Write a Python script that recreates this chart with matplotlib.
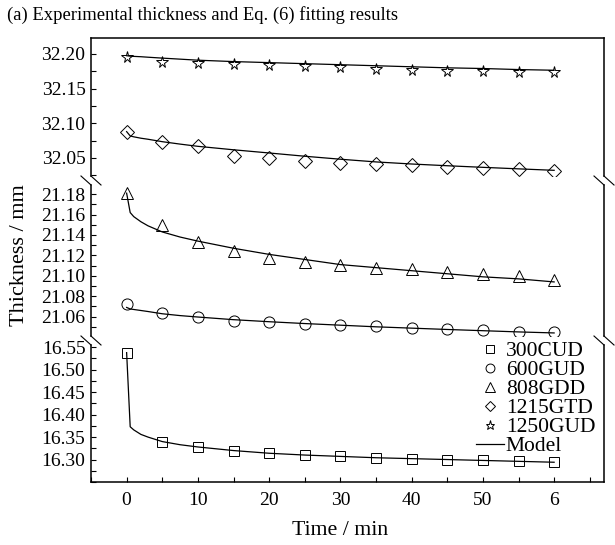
import matplotlib
matplotlib.use("Agg")
import matplotlib.pyplot as plt
from matplotlib.lines import Line2D
from matplotlib.ticker import MultipleLocator, FixedLocator

plt.rcParams['font.family'] = ['Liberation Serif', 'DejaVu Serif']

# measured thickness (mm) vs time (min)
time = [0, 5, 10, 15, 20, 25, 30, 35, 40, 45, 50, 55, 60]
cud_300 = [16.538, 16.338, 16.328, 16.320, 16.3145, 16.310, 16.308, 16.3045, 16.302,
           16.300, 16.2985, 16.2963, 16.294]
gud_600 = [21.0722, 21.064, 21.060, 21.0561, 21.0548, 21.0532, 21.0519, 21.0509,
           21.0493, 21.0477, 21.047, 21.0454, 21.045]
gdd_808 = [21.181, 21.1496, 21.1333, 21.1244, 21.1179, 21.1137, 21.1105, 21.108,
           21.1065, 21.1042, 21.1019, 21.100, 21.096]
gtd_1215 = [32.0875, 32.073, 32.0673, 32.053, 32.0496, 32.0457, 32.0433, 32.0413,
            32.0395, 32.0375, 32.036, 32.034, 32.0313]
gud_1250 = [32.1952, 32.189, 32.1875, 32.186, 32.1841, 32.1827, 32.1813, 32.1784,
            32.1774, 32.176, 32.1755, 32.1745, 32.1736]

# Eq. (6) model curves
t_model = [0, 0.5, 1, 2, 3, 5, 7.5, 10, 15, 20, 25, 30, 35, 40, 45, 50, 55, 60]
model_300 = [16.538, 16.373, 16.366, 16.356, 16.350, 16.340, 16.333, 16.328, 16.320,
             16.314, 16.310, 16.307, 16.304, 16.302, 16.300, 16.298, 16.296, 16.294]
model_600 = [21.069, 21.0675, 21.067, 21.066, 21.065, 21.0628, 21.061, 21.0596, 21.057,
             21.055, 21.0532, 21.0516, 21.050, 21.0487, 21.0474, 21.0462, 21.045, 21.044]
model_808 = [21.181, 21.162, 21.158, 21.153, 21.149, 21.143, 21.138, 21.134, 21.127,
             21.121, 21.116, 21.111, 21.108, 21.105, 21.102, 21.099, 21.097, 21.094]
model_1215 = [32.088, 32.0818, 32.0805, 32.0785, 32.077, 32.0735, 32.070, 32.0668,
              32.0618, 32.0572, 32.0525, 32.0482, 32.0443, 32.0413, 32.0388, 32.0365,
              32.0343, 32.0322]
model_1250 = [32.1975, 32.1968, 32.1965, 32.196, 32.1953, 32.194, 32.1925, 32.191,
              32.189, 32.1875, 32.186, 32.1845, 32.183, 32.1815, 32.180, 32.179,
              32.1775, 32.1765]

x_ticks = [0, 10, 20, 30, 40, 50, 60]
x_labels = ['0', '10', '20', '30', '40', '50', '6']

W, H = 615, 545
fig = plt.figure(figsize=(W / 100, H / 100), dpi=100)

L, R = 91, 604
panels = {  # pixel top, pixel bottom
    'top': (38, 176),
    'mid': (185, 336),
    'bot': (345, 482),
}


def make_ax(top, bottom):
    return fig.add_axes([L / W, 1 - bottom / H, (R - L) / W, (bottom - top) / H])


ax_top = make_ax(*panels['top'])
ax_mid = make_ax(*panels['mid'])
ax_bot = make_ax(*panels['bot'])

mk = dict(mfc='none', mec='black', mew=0.7, ls='none')
ln = dict(color='black', lw=0.9)

ax_top.plot(t_model, model_1250, **ln)
ax_top.plot(t_model, model_1215, **ln)
h5, = ax_top.plot(time, gud_1250, marker='*', ms=8.5, **mk)
h4, = ax_top.plot(time, gtd_1215, marker='D', ms=7.0, **mk)

ax_mid.plot(t_model, model_808, **ln)
ax_mid.plot(t_model, model_600, **ln)
h3, = ax_mid.plot(time, gdd_808, marker='^', ms=8.5, **mk)
h2, = ax_mid.plot(time, gud_600, marker='o', ms=8.0, **mk)

hm, = ax_bot.plot(t_model, model_300, **ln)
h1, = ax_bot.plot(time, cud_300, marker='s', ms=7.5, **mk)

ax_top.set_ylim(32.024, 32.223)
ax_mid.set_ylim(21.041, 21.189)
ax_bot.set_ylim(16.25, 16.555)

ax_top.yaxis.set_major_locator(FixedLocator([32.05, 32.10, 32.15, 32.20]))
ax_top.yaxis.set_minor_locator(MultipleLocator(0.025))
ax_mid.yaxis.set_major_locator(FixedLocator([21.06, 21.08, 21.10, 21.12, 21.14, 21.16, 21.18]))
ax_mid.yaxis.set_minor_locator(MultipleLocator(0.01))
ax_bot.yaxis.set_major_locator(FixedLocator([16.30, 16.35, 16.40, 16.45, 16.50, 16.55]))
ax_bot.yaxis.set_minor_locator(MultipleLocator(0.025))
ax_top.yaxis.set_major_formatter(plt.FormatStrFormatter('%.2f'))
ax_mid.yaxis.set_major_formatter(plt.FormatStrFormatter('%.2f'))
ax_bot.yaxis.set_major_formatter(plt.FormatStrFormatter('%.2f'))

for ax in (ax_top, ax_mid, ax_bot):
    ax.set_xlim(-5, 67)
    ax.tick_params(axis='y', which='both', direction='in', length=3.5, width=0.8,
                   labelsize=14, pad=4, right=False)
    ax.tick_params(axis='x', which='both', direction='in', length=3.5, width=0.8,
                   labelsize=14, pad=7, top=False)
    for s in ax.spines.values():
        s.set_linewidth(1.1)

for ax in (ax_top, ax_mid):
    ax.tick_params(axis='x', which='both', bottom=False, labelbottom=False)
    ax.spines['bottom'].set_visible(False)
for ax in (ax_mid, ax_bot):
    ax.spines['top'].set_visible(False)

ax_bot.set_xticks(x_ticks)
ax_bot.set_xticklabels(x_labels)
ax_bot.xaxis.set_minor_locator(MultipleLocator(5))

# axis break marks
for gap_top, gap_bot in [(176, 185), (336, 345)]:
    for xs in (L, R):
        for dx in (-10, 0):
            fig.add_artist(Line2D([(xs + dx) / W, (xs + dx + 10) / W],
                                  [1 - gap_top / H, 1 - gap_bot / H],
                                  transform=fig.transFigure, color='black', lw=0.8))

ax_bot.legend([h1, h2, h3, h4, h5, hm],
              ['300CUD', '600GUD', '808GDD', '1215GTD', '1250GUD', 'Model'],
              loc='upper right', bbox_to_anchor=(1.0, 1.09), frameon=False,
              fontsize=15.5, handlelength=1.3, handletextpad=0.1, labelspacing=-0.05,
              borderaxespad=0.0, markerscale=0.8)

fig.text(7 / W, 1 - 20 / H, '(a) Experimental thickness and Eq. (6) fitting results',
         fontsize=13.4, ha='left', va='baseline')
fig.text(20 / W, 1 - 255 / H, 'Thickness / mm', rotation=90, fontsize=16,
         ha='center', va='center')
fig.text(340 / W, 1 - 535 / H, 'Time / min', fontsize=15.7, ha='center', va='baseline')

fig.savefig('out.png', dpi=100)
